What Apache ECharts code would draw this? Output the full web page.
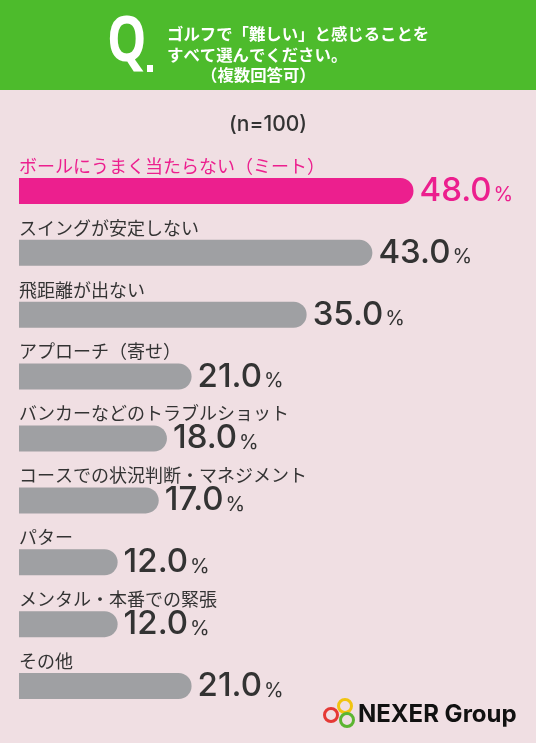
<!DOCTYPE html>
<html>
<head>
<meta charset="utf-8">
<script src="https://cdn.jsdelivr.net/npm/echarts@6/dist/echarts.min.js"></script>
<style>
  html, body { margin: 0; padding: 0; background: #f0dfe3; }
  #chart { width: 536px; height: 743px; }
</style>
</head>
<body>
<div id="chart"></div>
<script>
var categories = [
    'ボールにうまく当たらない（ミート）',
    'スイングが安定しない',
    '飛距離が出ない',
    'アプローチ（寄せ）',
    'バンカーなどのトラブルショット',
    'コースでの状況判断・マネジメント',
    'パター',
    'メンタル・本番での緊張',
    'その他'
];
var values = [48.0, 43.0, 35.0, 21.0, 18.0, 17.0, 12.0, 12.0, 21.0];

var titleLines = ['ゴルフで「難しい」と感じることを', 'すべて選んでください。'];
var subTitle = '（複数回答可）';
var sampleText = '(n=100)';

var PINK = '#ec1f8e';
var GRAY = '#9fa0a3';
var TEXT = '#333333';
var NUM_FONT = 'Inter, Lato, sans-serif';
var JP_FONT = '"Noto Sans CJK JP", sans-serif';

var dom = document.getElementById('chart');
var myChart = echarts.init(dom);

function valueRich(color) {
    return {
        a: { fontSize: 33, fontFamily: NUM_FONT, fontWeight: 500, color: color, verticalAlign: 'bottom' },
        b: { fontSize: 20, fontFamily: NUM_FONT, fontWeight: 400, color: color, verticalAlign: 'bottom', padding: [0, 0, 2, 2] }
    };
}

var option = {
    backgroundColor: '#f0dfe3',
    animation: false,
    grid: { left: 19, right: 28, top: 160, bottom: 26 },
    xAxis: {
        type: 'value',
        min: 0,
        max: 59.5,
        show: false
    },
    yAxis: {
        type: 'category',
        inverse: true,
        data: categories,
        axisLine: { show: false },
        axisTick: { show: false },
        axisLabel: {
            inside: true,
            margin: 0,
            align: 'left',
            verticalAlign: 'bottom',
            padding: [0, 0, 16, 0],
            fontSize: 18,
            fontFamily: JP_FONT,
            color: function (value, index) {
                return index === 0 ? PINK : TEXT;
            }
        }
    },
    series: [
        {
            type: 'bar',
            barWidth: 26,
            data: values.map(function (v, i) {
                return {
                    value: v,
                    itemStyle: { color: i === 0 ? PINK : GRAY },
                    label: { rich: valueRich(i === 0 ? PINK : TEXT) }
                };
            }),
            itemStyle: { borderRadius: [0, 13, 13, 0] },
            label: {
                show: true,
                position: 'right',
                distance: 6,
                formatter: function (p) {
                    return '{a|' + p.value.toFixed(1) + '}{b|%}';
                }
            }
        }
    ],
    graphic: [
        { type: 'rect', left: 0, top: 0, shape: { width: 536, height: 90 }, style: { fill: '#4dbb2c' } },
        { type: 'text', left: 107, top: 12, scaleX: 0.8, style: { text: 'Q', fill: '#fff', font: 'bold 62px "Open Sans", sans-serif' } },
        { type: 'rect', left: 147, top: 65, shape: { width: 6, height: 7 }, style: { fill: '#fff' } },
        { type: 'text', left: 167, top: 26, style: { text: titleLines[0], fill: '#fff', font: 'bold 16.4px ' + JP_FONT } },
        { type: 'text', left: 167, top: 47, style: { text: titleLines[1], fill: '#fff', font: 'bold 16.4px ' + JP_FONT } },
        { type: 'text', left: 201, top: 67, style: { text: subTitle, fill: '#fff', font: 'bold 16.4px ' + JP_FONT } },
        { type: 'text', left: 'center', top: 114, style: { text: sampleText, fill: TEXT, font: '500 21px ' + NUM_FONT } },
        { type: 'circle', shape: { cx: 345, cy: 706, r: 6.5 }, style: { fill: 'none', stroke: '#f1c40f', lineWidth: 3 } },
        { type: 'circle', shape: { cx: 331, cy: 715, r: 6.5 }, style: { fill: 'none', stroke: '#e53935', lineWidth: 3 } },
        { type: 'circle', shape: { cx: 347, cy: 720, r: 6.5 }, style: { fill: 'none', stroke: '#5cb531', lineWidth: 3 } },
        { type: 'text', left: 358, top: 703, style: { text: 'NEXER Group', fill: '#111', font: 'bold 24px ' + NUM_FONT } }
    ]
};

myChart.setOption(option, true);
</script>
</body>
</html>
